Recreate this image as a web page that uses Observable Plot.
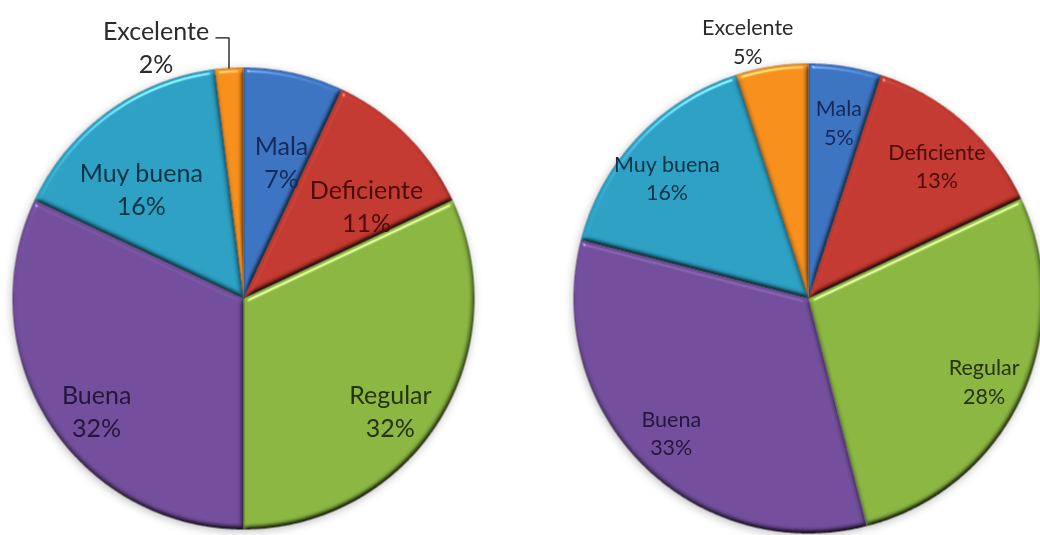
<!DOCTYPE html>
<html>
<head>
<meta charset="utf-8">
<script src="https://cdn.jsdelivr.net/npm/d3@7"></script>
<script src="https://cdn.jsdelivr.net/npm/@observablehq/plot@0.6"></script>
<style>
  html, body { margin: 0; padding: 0; background: #ffffff; }
  #chart { width: 1040px; height: 535px; overflow: hidden; }
</style>
</head>
<body>
<div id="chart"></div>
<script>
// ---- data ----
const categories = ["Mala", "Deficiente", "Regular", "Buena", "Muy buena", "Excelente"];
const valuesLeft = [7, 11, 32, 32, 16, 2];
const valuesRight = [5, 13, 28, 33, 16, 5];
const outsideCategory = "Excelente";

// ---- styles ----
const sliceColors = ["#3c74c2", "#c2392f", "#8ab642", "#724e9c", "#2ca0c4", "#f68f1e"];
const labelColors = ["#15295a", "#4a0c0a", "#26330c", "#26163c", "#0b3444", "#2b2b2b"];

// ---- layout (data units: left pie radius = 1) ----
const W = 1040, H = 535, PX = 231; // pixels per unit
const xDomain = [-243 / PX, (W - 243) / PX];
const yDomain = [(298 - H) / PX, 298 / PX];
const charts = [
  {key: "L", values: valuesLeft, cx: 0, cy: 0, r: 1, labelRx: 0.753, labelRy: 0.713, labelDy: 23,
   font: 25, lh: 1.32, outDx: -73, outDy: -22, leader: true},
  {key: "R", values: valuesRight, cx: 565 / PX, cy: 0, r: 235 / PX, labelRx: 0.826, labelRy: 0.78, labelDy: 4,
   font: 21.5, lh: 1.32, outDx: -24, outDy: -26, leader: false}
];

const sliceRows = [], labelRows = [], outRows = [], leaderRows = [];
for (const c of charts) {
  const total = d3.sum(c.values);
  let acc = 0;
  c.values.forEach((v, i) => {
    const a0 = acc / total * 2 * Math.PI, a1 = (acc + v) / total * 2 * Math.PI;
    acc += v;
    const key = c.key + i, color = sliceColors[i];
    const n = Math.max(4, Math.ceil((a1 - a0) / (Math.PI / 360)));
    sliceRows.push({key, color, x: c.cx, y: c.cy});
    for (let j = 0; j <= n; j++) {
      const a = a0 + (a1 - a0) * j / n;
      sliceRows.push({key, color, x: c.cx + c.r * Math.sin(a), y: c.cy + c.r * Math.cos(a)});
    }
    sliceRows.push({key, color, x: c.cx, y: c.cy});
    const am = (a0 + a1) / 2;
    const text = categories[i] + "\n" + v + "%";
    if (categories[i] === outsideCategory) {
      const ex = c.cx + c.r * Math.sin(am), ey = c.cy + c.r * Math.cos(am);
      outRows.push({chart: c.key, text, x: ex, y: ey, color: labelColors[i]});
      if (c.leader) {
        leaderRows.push({x: ex, y: ey});
        leaderRows.push({x: ex, y: ey + 30 / PX});
        leaderRows.push({x: ex - 13 / PX, y: ey + 30 / PX});
      }
    } else {
      labelRows.push({chart: c.key, text,
        x: c.cx + c.r * c.labelRx * Math.sin(am), y: c.cy + c.r * c.labelRy * Math.cos(am),
        color: labelColors[i]});
    }
  });
}

const marks = [
  Plot.line(sliceRows, {x: "x", y: "y", z: "key", fill: "color", stroke: "rgba(0,0,0,0.45)",
    strokeWidth: 0.8, curve: "linear", className: "slices"}),
  Plot.line(leaderRows, {x: "x", y: "y", stroke: "#111", strokeWidth: 1.3})
];
for (const c of charts) {
  marks.push(Plot.text(labelRows.filter(d => d.chart === c.key), {
    x: "x", y: "y", text: "text", fill: "color", fontSize: c.font, lineHeight: c.lh,
    dy: c.labelDy, fontFamily: "Lato, 'Noto Sans', sans-serif"
  }));
  marks.push(Plot.text(outRows.filter(d => d.chart === c.key), {
    x: "x", y: "y", text: "text", fill: "color", fontSize: c.font, lineHeight: c.lh,
    dx: c.outDx, dy: c.outDy, fontFamily: "Lato, 'Noto Sans', sans-serif"
  }));
}

const svg = Plot.plot({
  width: W, height: H,
  margin: 0,
  x: {domain: xDomain, axis: null},
  y: {domain: yDomain, axis: null},
  color: {type: "identity"},
  style: {background: "#ffffff", overflow: "hidden"},
  marks
});

// bevel / lighting filter to imitate the 3D look of the original
const defs = document.createElementNS("http://www.w3.org/2000/svg", "defs");
defs.innerHTML = `
<filter id="bevel" x="-5%" y="-5%" width="110%" height="110%" color-interpolation-filters="sRGB">
  <feGaussianBlur in="SourceAlpha" stdDeviation="2.5" result="blur"/>
  <feDiffuseLighting in="blur" surfaceScale="3" diffuseConstant="1.31" lighting-color="#ffffff" result="diff">
    <feDistantLight azimuth="250" elevation="50"/>
  </feDiffuseLighting>
  <feSpecularLighting in="blur" surfaceScale="3" specularConstant="0.5" specularExponent="80" lighting-color="#ffffff" result="spec">
    <feDistantLight azimuth="250" elevation="50"/>
  </feSpecularLighting>
  <feComposite in="SourceGraphic" in2="diff" operator="arithmetic" k1="1" k2="0" k3="0" k4="0" result="lit"/>
  <feComposite in="spec" in2="SourceAlpha" operator="in" result="specIn"/>
  <feComposite in="lit" in2="specIn" operator="arithmetic" k1="0" k2="1" k3="1" k4="0" result="out"/>
  <feComposite in="out" in2="SourceAlpha" operator="in"/>
</filter>
<filter id="shadow" x="-10%" y="-10%" width="120%" height="120%">
  <feDropShadow dx="-1" dy="2" stdDeviation="4" flood-color="#000" flood-opacity="0.25"/>
</filter>`;
svg.insertBefore(defs, svg.firstChild);
const g = svg.querySelector("g.slices") || svg.querySelector("[aria-label=line]");
if (g) {
  g.setAttribute("filter", "url(#shadow)");
  g.querySelectorAll("path").forEach(p => p.setAttribute("filter", "url(#bevel)"));
}

document.getElementById("chart").appendChild(svg);
</script>
</body>
</html>
